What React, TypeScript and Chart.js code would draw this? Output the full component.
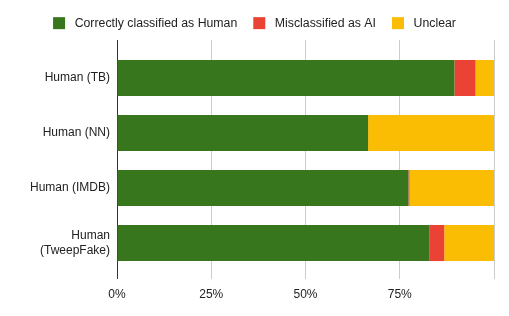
import React, { useEffect, useRef } from "react";
import { Chart, registerables } from "chart.js";

Chart.register(...registerables);

const categories: (string | string[])[] = [
  "Human (TB)",
  "Human (NN)",
  "Human (IMDB)",
  ["Human", "(TweepFake)"],
];
const seriesNames = ["Correctly classified as Human", "Misclassified as AI", "Unclear"];
const correctHuman = [89.5, 66.6, 77.3, 82.8];
const misclassifiedAI = [5.6, 0, 0.3, 4.0];
const unclear = [4.9, 33.4, 22.4, 13.2];
const xTicks = [0, 25, 50, 75, 100];
const colors = ["#38761d", "#ea4335", "#fbbc04"];

export default function App() {
  const ref = useRef<HTMLCanvasElement | null>(null);
  useEffect(() => {
    if (!ref.current) return;
    const legendHeight = {
      id: "legendHeight",
      beforeInit(chart: any) {
        const orig = chart.legend.fit;
        chart.legend.fit = function () {
          orig.bind(chart.legend)();
          this.height = 39;
        };
      },
      beforeDraw(chart: any) {
        if (chart.legend) {
          chart.legend.right = chart.width;
        }
      },
    };
    const font = { family: "Arial, 'Liberation Sans', sans-serif", size: 12 };
    const chart = new Chart(ref.current, {
      type: "bar",
      data: {
        labels: categories as any,
        datasets: [correctHuman, misclassifiedAI, unclear].map((d, i) => ({
          label: seriesNames[i],
          data: d,
          backgroundColor: colors[i],
          borderWidth: 0,
          barPercentage: 0.655,
          categoryPercentage: 1,
        })),
      },
      options: {
        indexAxis: "y",
        animation: false,
        responsive: false,
        layout: { padding: { top: 1, right: 15, left: 0, bottom: 0 } },
        plugins: {
          tooltip: { enabled: false },
          legend: {
            position: "top",
            labels: {
              boxWidth: 12,
              boxHeight: 12,
              padding: 16,
              color: "#222222",
              font: { family: font.family, size: 12.3 },
              generateLabels: (c: any) =>
                c.data.datasets.map((ds: any, i: number) => ({
                  text: " " + ds.label,
                  fillStyle: ds.backgroundColor,
                  strokeStyle: ds.backgroundColor,
                  lineWidth: 0,
                  hidden: false,
                  datasetIndex: i,
                  fontColor: "#222222",
                })),
            },
          },
        },
        scales: {
          x: {
            stacked: true,
            min: 0,
            max: 100,
            afterBuildTicks: (s: any) => {
              s.ticks = xTicks.map((v) => ({ value: v }));
            },
            afterFit: (s: any) => {
              s.height = 37;
            },
            ticks: {
              color: "#222222",
              font,
              padding: 8,
              maxRotation: 0,
              callback: (v: any) => (v === 100 ? "" : v + "%"),
            },
            grid: {
              drawTicks: false,
              color: (ctx: any) => (ctx.tick && ctx.tick.value === 0 ? "#333333" : "#cccccc"),
              lineWidth: 1,
            },
            border: { display: false },
          },
          y: {
            stacked: true,
            afterBuildTicks: (s: any) => {
              s._startValue = -0.691;
              s._valueRange = 4.345;
            },
            afterFit: (s: any) => {
              s.width = 117;
            },
            ticks: { color: "#222222", font, padding: 7 },
            grid: { display: false, drawTicks: false },
            border: { display: false },
          },
        },
      },
      plugins: [legendHeight],
    });
    return () => chart.destroy();
  }, []);
  return (
    <div style={{ position: "absolute", left: 0, top: 0, width: 509, height: 316 }}>
      <canvas ref={ref} width={509} height={316} style={{ width: 509, height: 316 }} />
    </div>
  );
}
